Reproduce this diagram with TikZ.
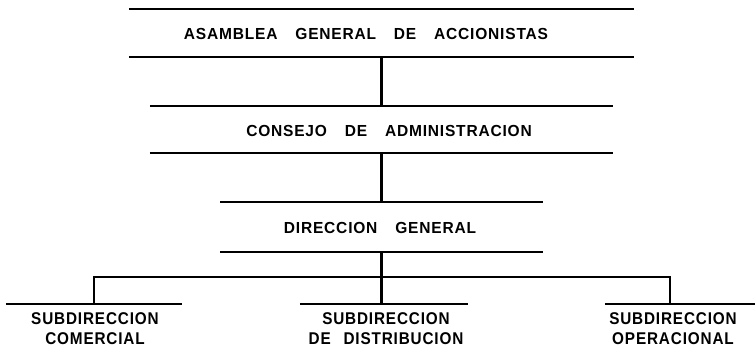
\documentclass[tikz,border=0pt]{standalone}
\usepackage{fontspec}
\newfontfamily\letra{Liberation Sans}[FakeStretch=0.97,LetterSpace=5,WordSpace=3.5]
\newfontfamily\letrasub{Liberation Sans}[FakeStretch=0.9,LetterSpace=5,WordSpace=2.5]
\usetikzlibrary{positioning}

\tikzset{
 caja/.style={minimum height=48pt, inner sep=0pt},
 raya/.style={line width=2.2pt},
 rotulo/.style={font=\letra\fontsize{16}{20}\selectfont\bfseries, inner sep=0pt, align=center},
 rotulosub/.style={font=\letrasub\fontsize{17}{20}\selectfont\bfseries, inner sep=0pt, align=center}
}

\begin{document}
\begin{tikzpicture}[x=1pt,y=-1pt]
%\draw[help lines] (0,0) grid[step=50] (755,351);
\useasboundingbox (0,0) rectangle (755,351);

 % niveles
 \node[caja, minimum width=505pt] (asamblea) at (381.5,33) {};
 \node[rotulo] (asamblea-t) at (366,34) {ASAMBLEA GENERAL DE ACCIONISTAS};

 \node[caja, minimum width=463pt, minimum height=47pt] (consejo) at (381.5,129.5) {};
 \node[rotulo] (consejo-t) at (389,131) {CONSEJO DE ADMINISTRACION};

 \node[caja, minimum width=323pt, minimum height=50pt] (direccion) at (381.5,227) {};
 \node[rotulo] (direccion-t) at (380,228) {DIRECCION GENERAL};

 \foreach \n in {asamblea,consejo,direccion}
  \draw[raya] (\n.north west) -- (\n.north east) (\n.south west) -- (\n.south east);

 % subdirecciones
 \node[inner sep=0pt, minimum width=176pt] (comercial) at (94,304) {};
 \node[inner sep=0pt, minimum width=168pt] (distribucion) at (384,304) {};
 \node[inner sep=0pt, minimum width=150pt] (operacional) at (680,304) {};

 \foreach \n in {comercial,distribucion,operacional}
  \draw[raya] (\n.west) -- (\n.east);

 \node[rotulosub] (comercial-t) at (95,328.5) {SUBDIRECCION\\COMERCIAL};
 \node[rotulosub] (distribucion-t) at (386,328.5) {SUBDIRECCION\\DE DISTRIBUCION};
 \node[rotulosub] (operacional-t) at (673,328.5) {SUBDIRECCION\\OPERACIONAL};

 % lineas de mando
 \draw[raya] (asamblea.south) -- (consejo.north);
 \draw[raya] (consejo.south) -- (direccion.north);
 \draw[raya] (direccion.south) -- (direccion.south |- distribucion.north);
 \coordinate (rama) at (381.5,277);
 \draw[raya] (comercial.north) |- (rama) -| ([xshift=-10pt]operacional.north);

\end{tikzpicture}
\end{document}
